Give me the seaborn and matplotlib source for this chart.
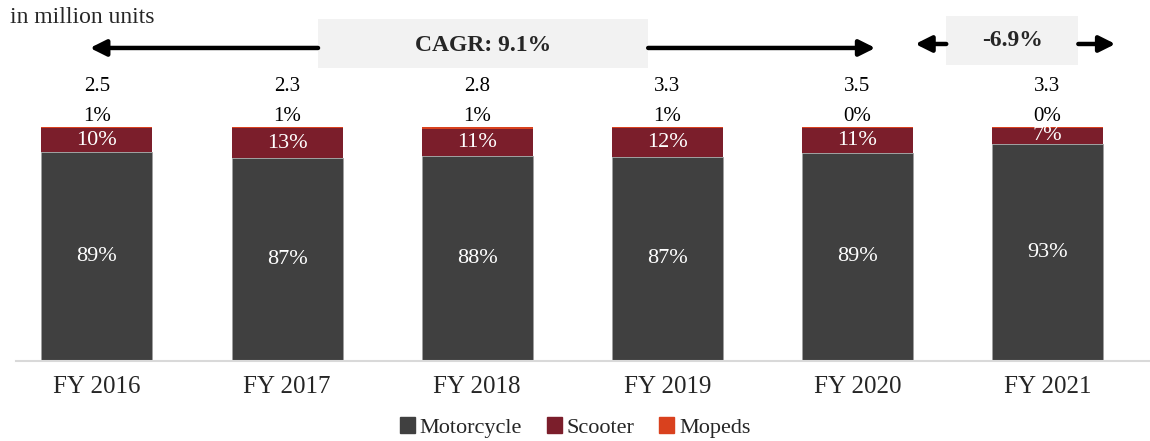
import numpy as np
import pandas as pd
import matplotlib
matplotlib.use('Agg')
import matplotlib.pyplot as plt
import seaborn as sns

# values (share of units, %)
years = ['FY 2016', 'FY 2017', 'FY 2018', 'FY 2019', 'FY 2020', 'FY 2021']
motorcycle = [89.2, 86.6, 87.7, 87.4, 89.0, 92.6]
scooter = [10.2, 12.8, 11.4, 12.0, 10.8, 7.2]
mopeds = [0.6, 0.6, 0.9, 0.6, 0.2, 0.2]
totals = [2.5, 2.3, 2.8, 3.3, 3.5, 3.3]
cagr_labels = ['CAGR: 9.1%', '-6.9%']

colors = {'Motorcycle': '#404040', 'Scooter': '#7b1e2b', 'Mopeds': '#d9411e'}

df = pd.DataFrame({'year': years, 'Motorcycle': motorcycle,
                   'Scooter': scooter, 'Mopeds': mopeds})
df['b_scooter'] = df['Motorcycle']
df['b_mopeds'] = df['Motorcycle'] + df['Scooter']

sns.set_style('white')
plt.rcParams['font.family'] = ['Liberation Serif', 'DejaVu Serif']

fig = plt.figure(figsize=(11.5, 4.41), dpi=100)
ax = fig.add_axes([16 / 1150, 1 - 361 / 441, 1134 / 1150, 361 / 441])

w = 0.584
ec = '#a0a0a0'
sns.barplot(data=df, x='year', y='Motorcycle', color=colors['Motorcycle'], saturation=1,
            width=w, edgecolor=ec, linewidth=0.6, ax=ax)
sns.barplot(data=df, x='year', y='Scooter', bottom=df['b_scooter'], color=colors['Scooter'],
            saturation=1, width=w, linewidth=0, ax=ax)
sns.barplot(data=df, x='year', y='Mopeds', bottom=df['b_mopeds'], color=colors['Mopeds'],
            saturation=1, width=w, linewidth=0, ax=ax)

ax.set_xlim(-0.426, 5.54)
ax.set_ylim(0, 154.3)
ax.set_xlabel('')
ax.set_ylabel('')
ax.set_yticks([])
for s in ['top', 'right', 'left']:
    ax.spines[s].set_visible(False)
ax.spines['bottom'].set_color('#d9d9d9')
ax.spines['bottom'].set_linewidth(1.5)
ax.tick_params(axis='x', length=0, labelsize=18, pad=11)

for i in range(len(years)):
    m, s, p = motorcycle[i], scooter[i], mopeds[i]
    ax.text(i, m / 2, f'{m:.0f}%', ha='center', va='center', color='white', fontsize=16)
    ax.text(i, m + s / 2, f'{s:.0f}%', ha='center', va='center', color='white', fontsize=16)
    ax.text(i, 104.7, f'{p:.0f}%', ha='center', va='center', color='black', fontsize=15)
    ax.text(i, 117.5, f'{totals[i]:.1f}', ha='center', va='center', color='black', fontsize=15)

# CAGR boxes and arrows
arrow_kw = dict(arrowstyle='-|>', color='black', lw=3.2, mutation_scale=24, shrinkA=0, shrinkB=0)
ax.add_patch(plt.Rectangle((1.163, 125.2), 2.9 - 1.163, 21.0, fc='#f2f2f2', ec='none', zorder=3))
ax.annotate('', xy=(-0.037, 133.8), xytext=(1.163, 133.8), arrowprops=arrow_kw)
ax.annotate('', xy=(4.095, 133.8), xytext=(2.9, 133.8), arrowprops=arrow_kw)
ax.text(2.03, 135.0, cagr_labels[0], ha='center', va='center', fontsize=17,
        fontweight='bold', zorder=4)

ax.add_patch(plt.Rectangle((4.468, 126.5), 5.163 - 4.468, 20.9, fc='#f2f2f2', ec='none', zorder=3))
ax.annotate('', xy=(4.305, 135.5), xytext=(4.468, 135.5), arrowprops=arrow_kw)
ax.annotate('', xy=(5.358, 135.5), xytext=(5.163, 135.5), arrowprops=arrow_kw)
ax.text(4.816, 137.0, cagr_labels[1], ha='center', va='center', fontsize=17,
        fontweight='bold', zorder=4)

fig.text(0.009, 0.96, 'in million units', ha='left', va='center', fontsize=17)

handles = [plt.Rectangle((0, 0), 1, 1, color=colors[k]) for k in ['Motorcycle', 'Scooter', 'Mopeds']]
fig.legend(handles, ['Motorcycle', 'Scooter', 'Mopeds'], loc='center', bbox_to_anchor=(0.5, 0.03),
           ncol=3, frameon=False, fontsize=16, handlelength=0.7, handleheight=0.7,
           handletextpad=0.2, columnspacing=1.1)

fig.savefig('out.png', dpi=100)
